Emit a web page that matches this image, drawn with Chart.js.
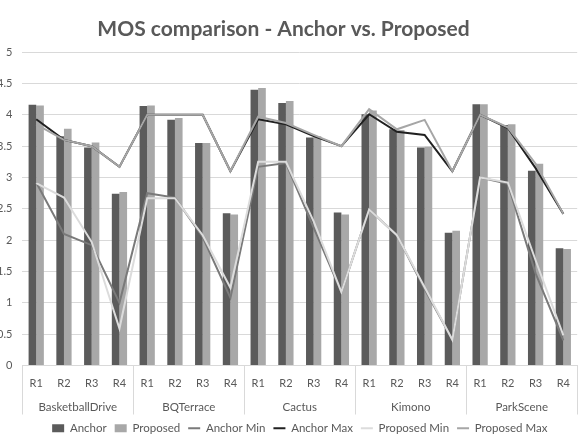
<!DOCTYPE html>
<html>
<head>
<meta charset="utf-8">
<script src="https://cdn.jsdelivr.net/npm/chart.js@4.4.0/dist/chart.umd.min.js"></script>
<style>
  html, body { margin: 0; padding: 0; background: #fff; overflow: hidden; }
  #wrap { position: absolute; left: -13px; top: 0; width: 594px; height: 444px; }
</style>
</head>
<body>
<div id="wrap"><canvas id="mos"></canvas></div>
<script>
// sequences and rate points
const groups = ['BasketballDrive', 'BQTerrace', 'Cactus', 'Kimono', 'ParkScene'];
const rates = ['R1', 'R2', 'R3', 'R4'];

// MOS values (R1..R4 per sequence)
const anchor      = [4.16, 3.66, 3.48, 2.74, 4.14, 3.92, 3.55, 2.43, 4.40, 4.19, 3.64, 2.44, 4.01, 3.77, 3.48, 2.12, 4.17, 3.84, 3.11, 1.87];
const proposed    = [4.15, 3.78, 3.56, 2.77, 4.15, 3.95, 3.55, 2.41, 4.43, 4.22, 3.66, 2.41, 4.07, 3.76, 3.49, 2.15, 4.17, 3.85, 3.22, 1.86];
const anchorMin   = [2.92, 2.10, 1.92, 1.00, 2.75, 2.68, 2.05, 1.08, 3.17, 3.23, 2.20, 1.17, 2.49, 2.08, 1.22, 0.41, 3.00, 2.90, 1.47, 0.40];
const anchorMax   = [3.93, 3.60, 3.50, 3.17, 4.00, 4.00, 4.00, 3.10, 3.93, 3.85, 3.66, 3.50, 4.01, 3.73, 3.68, 3.10, 4.00, 3.79, 3.15, 2.42];
const proposedMin = [2.91, 2.68, 1.97, 0.59, 2.67, 2.67, 2.08, 1.24, 3.25, 3.25, 2.30, 1.17, 2.49, 2.08, 1.25, 0.41, 3.00, 2.92, 1.68, 0.48];
const proposedMax = [3.85, 3.60, 3.50, 3.17, 4.00, 4.00, 4.00, 3.10, 3.97, 3.87, 3.68, 3.50, 4.09, 3.77, 3.92, 3.10, 4.00, 3.80, 3.22, 2.42];

const labels = groups.flatMap(() => rates);

const textColor = '#595959';
const gridColor = '#d9d9d9';
const fontFamily = 'Lato, "Open Sans", sans-serif';

// vertical separators between sequences, from the axis down through both label rows
const groupSeparators = {
  id: 'groupSeparators',
  afterDraw(chart) {
    const x = chart.scales.x;
    const g = chart.scales.groups;
    const ctx = chart.ctx;
    ctx.save();
    ctx.strokeStyle = gridColor;
    ctx.lineWidth = 1;
    for (let i = 0; i <= labels.length; i += rates.length) {
      const px = Math.round(x.getPixelForValue(i - 0.5)) + 0.5;
      ctx.beginPath();
      ctx.moveTo(px, x.top);
      ctx.lineTo(px, g.bottom);
      ctx.stroke();
    }
    ctx.restore();
  }
};

function lineSet(label, data, color, order) {
  return {
    type: 'line',
    label: label,
    data: data,
    borderColor: color,
    backgroundColor: color,
    borderWidth: 2,
    tension: 0,
    pointRadius: 0,
    pointHoverRadius: 0,
    pointStyle: 'line',
    fill: false,
    order: order
  };
}

function barSet(label, data, color) {
  return {
    label: label,
    data: data,
    backgroundColor: color,
    pointStyle: 'rect',
    order: 10,
    categoryPercentage: 0.55,
    barPercentage: 1
  };
}

new Chart(document.getElementById('mos'), {
  type: 'bar',
  data: {
    labels: labels,
    datasets: [
      barSet('Anchor', anchor, '#5b5b5b'),
      barSet('Proposed', proposed, '#a8a8a8'),
      lineSet('Anchor Min', anchorMin, '#7a7a7a', 4),
      lineSet('Anchor Max', anchorMax, '#202020', 3),
      lineSet('Proposed Min', proposedMin, '#dcdcdc', 2),
      lineSet('Proposed Max', proposedMax, '#a6a6a6', 1)
    ]
  },
  plugins: [groupSeparators],
  options: {
    responsive: true,
    maintainAspectRatio: false,
    animation: false,
    layout: { padding: { top: 4, right: 1, bottom: 0, left: 0 } },
    plugins: {
      title: {
        display: true,
        text: 'MOS comparison - Anchor vs. Proposed',
        color: textColor,
        font: { family: fontFamily, size: 21, weight: 'bold' },
        padding: { top: 13, bottom: 10 }
      },
      legend: {
        position: 'bottom',
        fullSize: false,
        labels: {
          usePointStyle: true,
          pointStyleWidth: 12,
          boxHeight: 8,
          padding: 8,
          color: textColor,
          font: { family: fontFamily, size: 11.5 },
          sort: (a, b) => a.datasetIndex - b.datasetIndex
        }
      },
      tooltip: { enabled: false }
    },
    scales: {
      x: {
        type: 'category',
        grid: { display: false, drawTicks: false },
        border: { display: true, color: gridColor },
        ticks: { color: textColor, font: { family: fontFamily, size: 11 }, padding: 11, maxRotation: 0, autoSkip: false }
      },
      groups: {
        type: 'category',
        position: 'bottom',
        labels: groups,
        grid: { display: false, drawTicks: false },
        border: { display: false },
        ticks: { color: textColor, font: { family: fontFamily, size: 11.5 }, padding: 0, maxRotation: 0 }
      },
      y: {
        min: 0,
        max: 5,
        ticks: {
          stepSize: 0.5,
          color: textColor,
          font: { family: fontFamily, size: 11 },
          padding: 10,
          callback: (v) => String(v)
        },
        grid: { color: gridColor, drawTicks: false },
        border: { display: false }
      }
    }
  }
});
</script>
</body>
</html>
